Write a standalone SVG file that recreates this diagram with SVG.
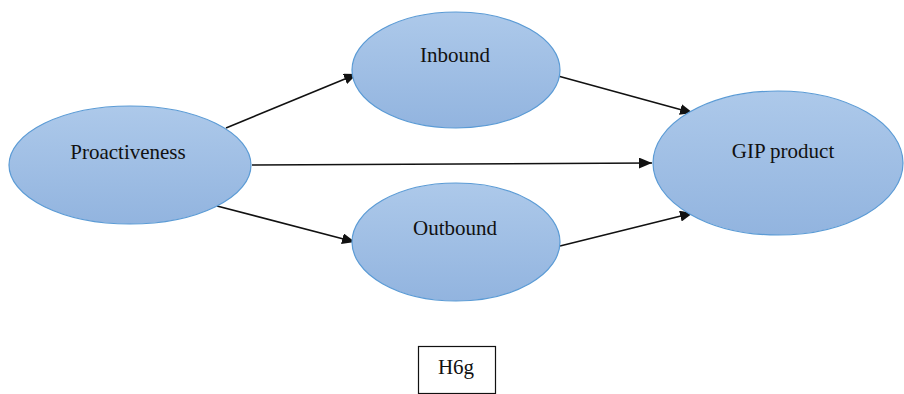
<svg xmlns="http://www.w3.org/2000/svg" width="904" height="394" viewBox="0 0 904 394">
<style>
.node ellipse{fill:url(#g);stroke:#5b9bd5;stroke-width:1.2}
.lbl{font-family:"Liberation Serif",serif;font-size:21px;fill:#111;text-anchor:middle}
.edge{stroke:#111;stroke-width:1.6;fill:none;marker-end:url(#ah)}
</style>
<defs>
<linearGradient id="g" x1="0" y1="0" x2="0" y2="1">
<stop offset="0" stop-color="#adc9ea"/>
<stop offset="1" stop-color="#92b4df"/>
</linearGradient>
<marker id="ah" viewBox="0 0 10 10" refX="10" refY="5" markerWidth="13" markerHeight="11" markerUnits="userSpaceOnUse" orient="auto" preserveAspectRatio="none">
<path d="M0,0 L10,5 L0,10 z" fill="#111"/>
</marker>
</defs>
<rect width="904" height="394" fill="#fff"/>
<g id="connectors">
<line class="edge" x1="226" y1="128" x2="357" y2="74"/>
<line class="edge" x1="252" y1="165" x2="652" y2="163"/>
<line class="edge" x1="217" y1="206" x2="355" y2="242"/>
<line class="edge" x1="558" y1="76" x2="693" y2="113"/>
<line class="edge" x1="560" y1="246" x2="693" y2="213"/>
</g>
<g id="proactiveness" class="node">
<ellipse cx="130" cy="165" rx="121" ry="59"/>
<text class="lbl" x="128" y="159">Proactiveness</text>
</g>
<g id="inbound" class="node">
<ellipse cx="456" cy="70" rx="104" ry="58"/>
<text class="lbl" x="455" y="62">Inbound</text>
</g>
<g id="outbound" class="node">
<ellipse cx="456" cy="242" rx="104" ry="59"/>
<text class="lbl" x="455" y="235">Outbound</text>
</g>
<g id="gip" class="node">
<ellipse cx="778" cy="163" rx="125" ry="72"/>
<text class="lbl" x="783" y="158">GIP product</text>
</g>
<g id="h6g">
<rect x="418.5" y="346.5" width="77" height="47" fill="#fff" stroke="#111" stroke-width="1.2"/>
<text class="lbl" x="456" y="374">H6g</text>
</g>
</svg>
